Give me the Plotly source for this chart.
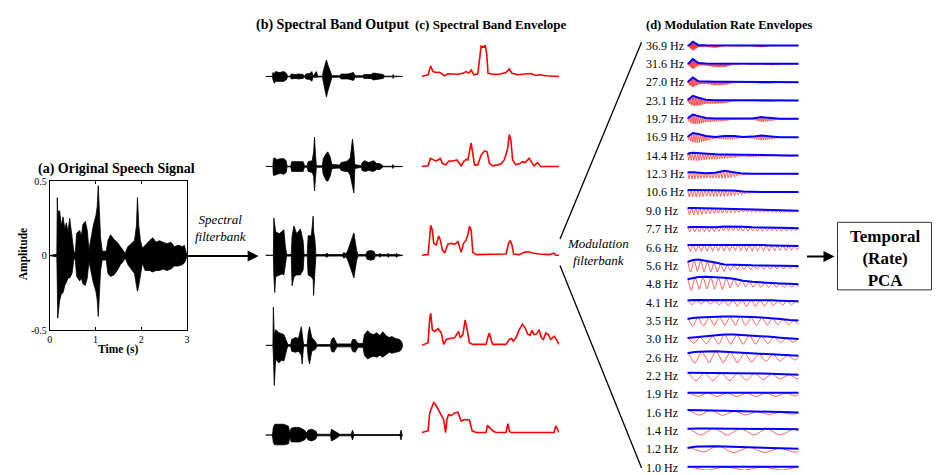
import numpy as np
import plotly.graph_objects as go

W, H = 936, 475
FONT = "Liberation Serif"

# ---------------- data ----------------
# (a) original speech signal: (time s, upper envelope, lower envelope)
speech = [
    (0.000, 0.000, 0.000), (0.145, 0.005, -0.005), (0.155, 0.010, -0.010),
    (0.165, 0.390, -0.200), (0.174, 0.300, -0.420), (0.218, 0.300, -0.300),
    (0.250, 0.200, -0.260), (0.290, 0.260, -0.250), (0.330, 0.180, -0.200),
    (0.363, 0.220, -0.180), (0.400, 0.160, -0.150), (0.436, 0.250, -0.150),
    (0.487, 0.120, -0.120), (0.530, 0.020, -0.020), (0.560, 0.030, -0.030),
    (0.588, 0.150, -0.140), (0.654, 0.170, -0.170), (0.690, 0.130, -0.150),
    (0.726, 0.210, -0.190), (0.777, 0.230, -0.200), (0.820, 0.170, -0.150),
    (0.857, 0.040, -0.040), (0.893, 0.100, -0.100), (0.951, 0.200, -0.180),
    (1.009, 0.270, -0.240), (1.038, 0.330, -0.300), (1.060, 0.470, -0.410),
    (1.082, 0.300, -0.250), (1.111, 0.120, -0.100), (1.147, 0.030, -0.030),
    (1.235, 0.030, -0.030), (1.271, 0.100, -0.120), (1.329, 0.140, -0.140),
    (1.402, 0.110, -0.130), (1.474, 0.090, -0.100), (1.547, 0.060, -0.060),
    (1.605, 0.030, -0.040), (1.649, 0.015, -0.015), (1.707, 0.060, -0.060),
    (1.779, 0.080, -0.090), (1.852, 0.100, -0.120), (1.895, 0.200, -0.200),
    (1.917, 0.390, -0.240), (1.946, 0.200, -0.200), (1.983, 0.100, -0.130),
    (2.026, 0.050, -0.050), (2.084, 0.070, -0.100), (2.179, 0.100, -0.100),
    (2.251, 0.120, -0.110), (2.324, 0.090, -0.100), (2.397, 0.100, -0.100),
    (2.484, 0.090, -0.090), (2.556, 0.080, -0.100), (2.651, 0.090, -0.090),
    (2.723, 0.060, -0.070), (2.810, 0.070, -0.070), (2.905, 0.060, -0.060),
    (2.941, 0.070, -0.050), (2.985, 0.020, -0.020), (3.000, 0.000, 0.000),
]
speech_xticks = [0, 1, 2, 3]
speech_yticks = [-0.5, 0, 0.5]

# (b) spectral band outputs: (time s, upper, lower) in relative amplitude units
band1_out = [
    (0.00, 0, 0), (0.15, 0, 0), (0.16, 4, -3), (0.19, 3, -7), (0.22, 5, -5),
    (0.30, 4, -5), (0.40, 5, -5), (0.46, 3, -3), (0.48, 0.3, -0.3), (0.54, 0.3, -0.3),
    (0.56, 2.5, -2.5), (0.65, 2, -2), (0.72, 2.5, -2.5), (0.82, 2, -2), (0.85, 0.3, -0.3),
    (0.88, 2.5, -2.5), (0.97, 3, -3), (1.01, 5, -5), (1.04, 0.3, -0.3), (1.07, 3, -1),
    (1.11, 5, -1), (1.14, 0.3, -0.3), (1.24, 0.3, -0.3), (1.26, 5, -5), (1.30, 12, -14),
    (1.33, 17, -21), (1.36, 12, -15), (1.41, 5, -6), (1.45, 0.8, -0.8), (1.62, 0.8, -0.8),
    (1.65, 2.5, -2.5), (1.80, 2.5, -2.5), (1.88, 3, -3), (1.92, 4, -4), (1.96, 0.8, -0.8),
    (2.12, 0.8, -0.8), (2.15, 2, -2), (2.30, 2, -2), (2.36, 3.5, -3.5), (2.43, 3, -3),
    (2.47, 2.5, -2.5), (2.57, 2, -2), (2.60, 0.3, -0.3), (2.77, 0.3, -0.3), (2.79, 2, -2),
    (2.81, 0.3, -0.3), (3.00, 0, 0),
]
band2_out = [
    (0.00, 0, 0), (0.16, 0, 0), (0.17, 8, -9), (0.20, 9, -9), (0.25, 7, -8),
    (0.32, 8, -7), (0.40, 8, -8), (0.45, 6, -6), (0.47, 0.3, -0.3), (0.55, 0.3, -0.3),
    (0.57, 5, -5), (0.70, 5, -5), (0.82, 5, -5), (0.85, 0.8, -0.8), (0.91, 0.8, -0.8),
    (0.93, 5, -5), (1.02, 6, -6), (1.05, 15, -10), (1.07, 30, -25), (1.09, 12, -12),
    (1.11, 0.8, -0.8), (1.24, 0.8, -0.8), (1.26, 8, -8), (1.32, 13, -14), (1.36, 15, -15),
    (1.41, 10, -10), (1.45, 2, -2), (1.62, 1.5, -1.5), (1.65, 4, -4), (1.75, 5, -5),
    (1.80, 6, -5), (1.85, 9, -9), (1.90, 28, -22), (1.93, 15, -27), (1.95, 2, -2),
    (2.09, 0.8, -0.8), (2.11, 4, -4), (2.17, 6, -5), (2.25, 4, -4), (2.36, 6, -5),
    (2.43, 3, -3), (2.50, 3, -3), (2.57, 0.3, -0.3), (2.77, 0.3, -0.3), (2.78, 2, -2),
    (2.80, 0.3, -0.3), (3.00, 0, 0),
]
band3_out = [
    (0.00, 0, 0), (0.17, 0, 0), (0.18, 38, -20), (0.20, 30, -38), (0.22, 24, -22),
    (0.30, 22, -20), (0.36, 24, -19), (0.40, 26, -20), (0.43, 10, -10), (0.46, 0.8, -0.8),
    (0.56, 0.8, -0.8), (0.58, 20, -31), (0.62, 30, -22), (0.68, 22, -20), (0.76, 27, -20),
    (0.82, 15, -15), (0.84, 0.8, -0.8), (0.91, 0.8, -0.8), (0.93, 20, -20), (1.00, 20, -22),
    (1.04, 40, -25), (1.05, 25, -41), (1.08, 15, -15), (1.10, 0.8, -0.8), (1.30, 0.8, -0.8),
    (1.34, 2, -2), (1.38, 0.8, -0.8), (1.68, 0.8, -0.8), (1.71, 3, -3), (1.75, 1.5, -1.5),
    (1.79, 4, -4), (1.82, 8, -8), (1.88, 15, -15), (1.93, 23, -23), (1.99, 5, -5),
    (2.02, 0.8, -0.8), (2.19, 0.8, -0.8), (2.22, 4, -4), (2.30, 5, -5), (2.37, 4, -4),
    (2.40, 0.8, -0.8), (2.48, 0.8, -0.8), (2.50, 2, -2), (2.53, 0.8, -0.8), (2.66, 0.8, -0.8),
    (2.68, 2, -2), (2.71, 0.8, -0.8), (2.84, 0.8, -0.8), (2.86, 2, -2), (2.89, 0.8, -0.8),
    (3.00, 0, 0),
]
band4_out = [
    (0.00, 0, 0), (0.16, 0, 0), (0.17, 39, -10), (0.19, 10, -41), (0.22, 16, -14),
    (0.29, 13, -18), (0.35, 12, -15), (0.40, 11, -16), (0.47, 3, -3), (0.49, 0.8, -0.8),
    (0.55, 0.8, -0.8), (0.57, 6, -6), (0.65, 8, -7), (0.72, 7, -6), (0.78, 19, -10),
    (0.80, 10, -19), (0.83, 0.8, -0.8), (0.91, 0.8, -0.8), (0.93, 12, -12), (0.96, 19, -19),
    (1.01, 8, -6), (1.09, 4, -4), (1.12, 0.8, -0.8), (1.42, 0.8, -0.8), (1.44, 6, -6),
    (1.49, 8, -7), (1.56, 1.5, -1.5), (1.87, 1.5, -1.5), (1.90, 6, -6), (1.96, 6, -7),
    (2.02, 2, -2), (2.13, 2, -2), (2.16, 11, -10), (2.23, 15, -14), (2.30, 12, -12),
    (2.36, 11, -11), (2.43, 13, -12), (2.50, 10, -10), (2.56, 14, -12), (2.63, 10, -9),
    (2.70, 8, -7), (2.76, 9, -8), (2.84, 7, -7), (2.93, 6, -6), (2.97, 4, -4),
    (3.00, 0, 0),
]
band5_out = [
    (0.00, 0, 0), (0.15, 0, 0), (0.17, 8, -8), (0.20, 11, -10), (0.30, 11, -10),
    (0.40, 11, -10), (0.50, 9, -9), (0.53, 2, -2), (0.56, 7, -7), (0.65, 8, -7),
    (0.75, 7.5, -7), (0.85, 5, -5), (0.90, 2, -2), (0.93, 5, -5), (1.01, 6, -6),
    (1.10, 4, -4), (1.13, 0.8, -0.8), (1.42, 0.8, -0.8), (1.44, 6, -6), (1.52, 4, -4),
    (1.62, 0.8, -0.8), (1.87, 0.8, -0.8), (1.90, 5, -5), (1.93, 0.5, -0.5), (2.94, 0.5, -0.5),
    (2.96, 5, -5), (2.98, 0.5, -0.5), (3.00, 0, 0),
]

# (c) spectral band envelopes: (time s, envelope)
band1_env = [
    (0.000, 0), (0.138, 1.7), (0.196, 10.7), (0.246, 5), (0.319, 4), (0.391, 4.3),
    (0.442, 2.7), (0.500, 0.7), (0.572, 2.7), (0.681, 2.7), (0.790, 2.3), (0.899, 3.3),
    (0.971, 5), (1.029, 3.3), (1.080, 6.7), (1.138, 1.7), (1.225, 2.7), (1.297, 31),
    (1.355, 30), (1.384, 32), (1.420, 23), (1.449, 3.3), (1.551, 2.3), (1.696, 2.3),
    (1.841, 4), (1.913, 7.7), (1.971, 3.3), (2.094, 1.7), (2.275, 2.3), (2.384, 3),
    (2.493, 1), (2.565, 1.7), (2.710, 0.7), (2.891, 0.7), (3.000, 0),
]
band2_env = [
    (0.000, 0), (0.138, 0.7), (0.188, 8.3), (0.246, 6.7), (0.304, 5.7), (0.355, 6.7),
    (0.406, 8.3), (0.449, 3.3), (0.522, 1.7), (0.594, 5.7), (0.681, 5.7), (0.768, 6.7),
    (0.826, 3.3), (0.862, 0.7), (0.913, 5), (0.971, 7.3), (1.007, 6.7), (1.043, 16.7),
    (1.080, 24), (1.116, 13.3), (1.152, 1.7), (1.225, 1.7), (1.297, 11.7), (1.370, 16),
    (1.428, 15), (1.478, 3.3), (1.551, 0.7), (1.659, 1.7), (1.732, 2.7), (1.804, 6.7),
    (1.877, 18.3), (1.913, 32.7), (1.949, 26.7), (1.986, 6.7), (2.058, 1.7), (2.130, 2.7),
    (2.203, 5), (2.261, 4), (2.348, 8.3), (2.406, 4), (2.457, 0.7), (2.529, 4),
    (2.601, 0), (3.000, 0),
]
band3_env = [
    (0.000, 0), (0.138, 0.7), (0.174, 19), (0.196, 30.7), (0.232, 25.7), (0.261, 12.3),
    (0.319, 10.7), (0.370, 19.7), (0.406, 15.7), (0.449, 5.7), (0.500, 2.3), (0.572, 11.3),
    (0.645, 12.3), (0.717, 11.3), (0.790, 14), (0.826, 7.3), (0.862, 3), (0.913, 12.3),
    (0.971, 15.7), (1.007, 20.7), (1.043, 29.7), (1.080, 25.7), (1.116, 3), (1.188, 0.7),
    (1.551, 0.7), (1.841, 1.3), (1.899, 12.3), (1.935, 15), (1.971, 10.7), (2.007, 1.3),
    (2.130, 0.7), (2.239, 3), (2.333, 3.7), (2.420, 2.3), (2.565, 1.3), (2.783, 0.7),
    (2.891, 2.3), (2.928, 0), (3.000, 0),
]
band4_env = [
    (0.000, 0), (0.138, 2.7), (0.174, 27.7), (0.196, 32.7), (0.232, 16), (0.283, 14.3),
    (0.355, 17), (0.428, 12.7), (0.478, 1), (0.536, 6), (0.609, 7), (0.717, 7.7),
    (0.804, 14.3), (0.841, 7.7), (0.899, 11), (0.949, 26), (0.986, 17.7), (1.043, 2.7),
    (1.116, 1), (1.406, 1), (1.442, 7.7), (1.478, 12.7), (1.514, 6), (1.551, 1),
    (1.841, 1), (1.913, 6), (1.964, 7), (2.000, 4.3), (2.058, 7.7), (2.130, 16),
    (2.203, 21.7), (2.261, 17.7), (2.312, 11.7), (2.370, 10.3), (2.406, 15.3), (2.457, 11),
    (2.514, 11.7), (2.565, 16), (2.616, 7.7), (2.659, 6), (2.710, 12.7), (2.768, 11),
    (2.819, 6), (2.891, 9.3), (2.942, 6), (3.000, 1),
]
band5_env = [
    (0.000, 0), (0.138, 1.7), (0.174, 20), (0.232, 26.7), (0.261, 30.7), (0.304, 28.3),
    (0.355, 24), (0.428, 16.7), (0.478, 13.3), (0.522, 0), (0.551, 13.3), (0.587, 18.3),
    (0.645, 17.3), (0.717, 20), (0.790, 20.7), (0.862, 11.7), (0.935, 13.3), (1.043, 12.7),
    (1.101, 1.7), (1.188, 0), (1.406, 0), (1.435, 7.3), (1.478, 5), (1.551, 1.7),
    (1.623, 0), (1.841, 0), (1.884, 9), (1.913, 1.7), (1.949, 0), (2.891, 0),
    (2.928, 6.7), (2.964, 3.3), (3.000, 0),
]

# (d) modulation rate envelopes
mod_rates = [36.9, 31.6, 27.0, 23.1, 19.7, 16.9, 14.4, 12.3, 10.6, 9.0, 7.7, 6.6,
             5.6, 4.8, 4.1, 3.5, 3.0, 2.6, 2.2, 1.9, 1.6, 1.4, 1.2, 1.0]
mod_grid = [0, 0.05, 0.15, 0.3, 0.5, 0.75, 1.0, 1.25, 1.5, 1.75, 2.0, 2.25, 2.5, 2.75, 3.0]
# blue envelope level per row at mod_grid times
mod_blue = [
    [0, 0.5, 4, 0.5, 0.3, 0.3, 0.3, 0.2, 0.2, 0.2, 0.3, 0.2, 0.2, 0.2, 0.2],
    [0, 1, 5, 1, 0.5, 0.5, 0.5, 0.3, 0.2, 0.2, 0.2, 0.3, 0.2, 0.2, 0.2],
    [0, 1.5, 5, 1, 0.5, 0.5, 0.5, 0.3, 0.2, 0.2, 0.3, 0.3, 0.2, 0.2, 0.2],
    [0.5, 2, 5, 3, 1, 0.5, 0.5, 0.3, 0.2, 0.2, 0.3, 0.3, 0.2, 0.2, 0.2],
    [0.5, 2, 4.5, 3, 1, 0.5, 0.5, 0.3, 0.2, 0.5, 2, 1, 0.2, 0.2, 0.2],
    [0.5, 2, 4.5, 3.5, 1.5, 0.5, 1.5, 1.5, 0.3, 0.8, 2, 1, 0.2, 0.2, 0.2],
    [1.5, 2.5, 3, 2.5, 2, 1.5, 1.2, 1, 0.5, 0.5, 0.3, 0.3, 0.3, 0.3, 0.3],
    [1.5, 2, 2, 1.5, 1, 1.5, 3.5, 2, 0.5, 0.3, 0.3, 0.3, 0.3, 0.3, 0.3],
    [2, 2.5, 2.5, 2.5, 2.5, 2.5, 2.5, 2, 1, 0.5, 0.5, 0.5, 0.5, 0.5, 0.5],
    [2.5, 3, 3, 3, 2.8, 2.5, 2.2, 2, 1.7, 1.3, 1, 0.8, 0.5, 0.3, 0.2],
    [2, 2.3, 2.3, 2.3, 2, 2, 2.8, 3, 2.5, 2, 2, 1.8, 1.5, 1.2, 1],
    [2.5, 2.7, 2.7, 2.7, 2.7, 3, 3, 3, 2.8, 2.5, 2.5, 2.2, 2, 1.8, 1.5],
    [4, 4.5, 6, 6.5, 5.5, 3.5, 1.5, 1, 0.8, 0.6, 0.5, 0.4, 0.3, 0.2, 0],
    [5, 5.5, 6.5, 7.5, 7.7, 7.5, 6.7, 5.5, 3.5, 2.5, 1.7, 1.2, 0.8, 0.4, 0],
    [2, 2.5, 2.7, 2.7, 2.5, 2.3, 2.5, 3, 3, 3, 2.7, 2.3, 2, 1.7, 1.5],
    [2, 2.5, 3, 3.5, 4, 4.5, 4.5, 4.5, 4.5, 4, 3.5, 3, 2, 1, 0.5],
    [1.3, 1.5, 2, 2.5, 3, 4, 4.8, 5, 4.5, 4, 3.3, 2.5, 1.7, 1, 0.3],
    [4.5, 5, 5.5, 6, 6.5, 6.5, 6, 5.5, 5, 4.5, 4, 3.5, 3, 2.5, 2],
    [3.3, 3.3, 3.3, 3.3, 3.3, 3.3, 3.3, 3.3, 3, 3, 2.7, 2.3, 2, 1.5, 1.2],
    [1.7, 1.7, 1.7, 1.7, 1.7, 1.7, 1.7, 1.7, 1.7, 1.7, 1.7, 1.7, 1.7, 1.7, 1.7],
    [2.7, 2.7, 2.7, 2.6, 2.5, 2.3, 2, 1.8, 1.5, 1.3, 1, 0.8, 0.6, 0.4, 0.3],
    [2.3, 2.5, 2.7, 2.7, 2.7, 2.7, 2.7, 2.5, 2.5, 2.3, 2.3, 2, 2, 2, 2],
    [1.5, 2, 2.5, 3, 3.3, 3.3, 3, 2.8, 2.5, 2.3, 2, 1.7, 1.4, 1, 0.7],
    [1, 1, 1, 1, 1, 1, 1, 1, 1, 1, 1, 1, 1, 1, 1],
]
# red oscillation depth (peak-to-trough) per row at mod_grid times
mod_depth = [
    [0, 2, 9, 2, 1.5, 2.5, 1, 0.5, 0.5, 1, 2, 0.5, 0.5, 0.5, 0.5],
    [0, 3, 10, 2.5, 2, 3.5, 3.5, 1, 0.5, 0.5, 0.5, 1.5, 0.5, 0.5, 0.5],
    [0, 4, 10, 3, 2, 3.5, 3, 1, 0.5, 0.5, 1.5, 1.5, 0.5, 0.5, 0.5],
    [1, 5, 10, 8, 4, 3.5, 3, 1, 0.5, 0.5, 1.5, 1.5, 0.5, 0.5, 0.5],
    [1, 5, 9.5, 8, 4, 3, 2.5, 1, 0.5, 1, 5, 3, 0.5, 0.5, 0.5],
    [1, 5, 9.5, 9, 5, 1.5, 3.5, 3.5, 0.5, 2, 5, 3, 0.5, 0.5, 0.5],
    [5, 7, 8, 7.5, 6, 5, 4, 3, 1.5, 2, 1, 0.5, 0.5, 1.5, 0.5],
    [5, 7, 7, 6, 5, 5.5, 8, 5, 1, 0.5, 0.5, 0.5, 0.5, 0.5, 0.5],
    [6, 7, 7, 7, 6.5, 6.5, 6.5, 5, 3, 1, 0.5, 0.5, 0.5, 0.5, 0.5],
    [6, 7, 7, 7, 6, 5, 4.5, 4, 3, 3, 2.5, 2.5, 2, 2, 1.5],
    [4.5, 5, 5, 5, 4.5, 4.5, 4.5, 4.5, 4.5, 4, 4, 3.5, 3.5, 3, 2.5],
    [6, 6.5, 6.5, 6.5, 6.5, 6.5, 6.5, 6, 6, 6, 5.5, 5.5, 5, 4.5, 4],
    [10, 11, 12, 12, 11.5, 10, 7, 5, 4.5, 4.5, 4, 4, 3.5, 3, 2.5],
    [11, 12, 12.5, 12.5, 12.5, 12.5, 12, 8, 6, 5.5, 5, 4.5, 4, 3.5, 3],
    [4.5, 5, 5, 4.5, 4, 4.5, 5.5, 6.5, 7, 7, 6.5, 5.5, 5, 4, 3.5],
    [7, 7.5, 8, 8.5, 9, 9, 9, 9, 9, 8.5, 8, 7, 6, 5, 4],
    [4.5, 5, 6, 7, 8, 9, 10, 10, 9.5, 9, 8, 6.5, 5, 4, 3.5],
    [10, 10.5, 11, 11.5, 11.5, 11.5, 11, 10.5, 10, 9, 8, 7, 6, 5, 4.5],
    [8, 8, 8, 8, 8, 8, 8, 8, 7.5, 7, 6.5, 6, 5, 4.5, 4],
    [3, 3.5, 3.5, 4, 4, 4, 4, 4, 4, 4, 4, 4, 4, 3.5, 3.5],
    [4, 4.5, 4.5, 5, 5, 5, 5, 4.5, 4, 3.5, 3, 2.5, 2.5, 2, 2],
    [6, 6.5, 6.5, 6.7, 6.7, 6.7, 6.7, 6.5, 6.5, 6.3, 6.3, 6, 6, 6, 6],
    [4, 4.5, 5, 5.5, 6, 6, 6, 6, 5.5, 5.5, 5, 5, 4.5, 4, 3.5],
    [3.5, 3.5, 3.5, 3.5, 3.5, 3.5, 3.5, 3.5, 3.5, 3.5, 3.5, 3.5, 3.5, 3.5, 3.5],
]

# ---------------- layout constants (pixels) ----------------
SPEECH_BOX = (48, 186, 180, 332)          # x0, x1, ytop, ybottom
OUT_X = (265, 403)
ENV_X = (422, 560)
OUT_BASE = [73, 165, 255.7, 347.7, 439.3]
ENV_BASE = [73, 165, 255.7, 347.7, 436.7]
MOD_X = (689, 801)
MOD_TOP, MOD_STEP = 41.5, 18.75

fig = go.Figure()
axes = {}
count = [0]


def new_axes(x0, x1, yc, half, xr):
    """Hidden axes whose y unit is one pixel, centred on pixel row yc."""
    count[0] += 1
    n = count[0]
    sfx = "" if n == 1 else str(n)
    y0, y1 = max(0.0, yc - half), min(H, yc + half)
    axes["xaxis" + sfx] = dict(domain=[x0 / W, x1 / W], range=xr, anchor="y" + sfx,
                               visible=False, fixedrange=True)
    axes["yaxis" + sfx] = dict(domain=[1 - y1 / H, 1 - y0 / H], range=[yc - y1, yc - y0],
                               anchor="x" + sfx, visible=False, fixedrange=True)
    return "x" + sfx, "y" + sfx


def add_wave(xa, ya, rows, color):
    t = [r[0] for r in rows]
    up = [r[1] for r in rows]
    lo = [r[2] for r in rows]
    fig.add_trace(go.Scatter(x=t, y=up, xaxis=xa, yaxis=ya, mode="lines",
                             line=dict(color=color, width=0.8), hoverinfo="skip", showlegend=False))
    fig.add_trace(go.Scatter(x=t, y=lo, xaxis=xa, yaxis=ya, mode="lines",
                             line=dict(color=color, width=0.8), fill="tonexty", fillcolor=color,
                             hoverinfo="skip", showlegend=False))


# (a) speech axes
xa, ya = new_axes(SPEECH_BOX[0], SPEECH_BOX[1], 0, 1, [0, 3])
axstyle = dict(visible=True, showline=True, linecolor="black", linewidth=1, mirror="ticks",
               ticks="inside", ticklen=3, tickcolor="black", showgrid=False, zeroline=False,
               tickfont=dict(family=FONT, size=10, color="black"), fixedrange=True)
axes["xaxis"] = dict(axes["xaxis"], **axstyle, tickvals=speech_xticks,
                     ticktext=[str(v) for v in speech_xticks])
axes["yaxis"] = dict(axstyle, domain=[1 - SPEECH_BOX[3] / H, 1 - SPEECH_BOX[2] / H],
                     range=[-0.5, 0.5], anchor="x", tickvals=speech_yticks,
                     ticktext=["-0.5", "0", "0.5"])
add_wave(xa, ya, speech, "black")

# (b) and (c)
for rows, base in zip([band1_out, band2_out, band3_out, band4_out, band5_out], OUT_BASE):
    xa, ya = new_axes(OUT_X[0], OUT_X[1], base, 46, [0, 3])
    add_wave(xa, ya, rows, "black")

for rows, base in zip([band1_env, band2_env, band3_env, band4_env, band5_env], ENV_BASE):
    xa, ya = new_axes(ENV_X[0], ENV_X[1], base, 40, [0, 3])
    fig.add_trace(go.Scatter(x=[r[0] for r in rows], y=[r[1] for r in rows], xaxis=xa, yaxis=ya,
                             mode="lines", line=dict(color="#ff0000", width=1.6),
                             hoverinfo="skip", showlegend=False))

# (d) modulation rows
annotations = []
mt = np.linspace(0, 3, 2401)
for i, rate in enumerate(mod_rates):
    yc = MOD_TOP + i * MOD_STEP
    xa, ya = new_axes(MOD_X[0], MOD_X[1], yc, 16, [0, 3])
    blue = np.interp(mt, mod_grid, mod_blue[i])
    depth = np.interp(mt, mod_grid, mod_depth[i])
    red = blue - depth * (1 - np.cos(2 * np.pi * rate * mt)) / 2
    fig.add_trace(go.Scatter(x=mt, y=red, xaxis=xa, yaxis=ya, mode="lines",
                             line=dict(color="rgba(255,0,0,0.85)", width=0.7),
                             hoverinfo="skip", showlegend=False))
    fig.add_trace(go.Scatter(x=mod_grid, y=mod_blue[i], xaxis=xa, yaxis=ya, mode="lines",
                             line=dict(color="#0000ff", width=2),
                             hoverinfo="skip", showlegend=False))
    annotations.append(dict(x=645 / W, y=1 - yc / H, xref="paper", yref="paper",
                            text=f"{rate:.1f} Hz", showarrow=False, xanchor="left",
                            yanchor="middle", font=dict(family=FONT, size=12, color="black")))


def text(x, y, s, size, xanchor="center", angle=0):
    annotations.append(dict(x=x / W, y=1 - y / H, xref="paper", yref="paper", text=s,
                            showarrow=False, xanchor=xanchor, yanchor="middle", textangle=angle,
                            font=dict(family=FONT, size=size, color="black")))


text(115.5, 168, "<b>(a) Original Speech Signal</b>", 14)
text(332.5, 20, "<b>(b) Spectral Band Output</b>", 14)
text(492, 20, "<b>(c) Spectral Band Envelope</b>", 13)
text(731, 20, "<b>(d) Modulation Rate Envelopes</b>", 12.5)
text(21.7, 255, "<b>Amplitude</b>", 11.5, angle=-90)
text(117, 352, "<b>Time (s)</b>", 11.5)
text(220, 228, "<i>Spectral</i><br><i>filterbank</i>", 13)
text(599, 252, "<i>Modulation</i><br><i>filterbank</i>", 13)
text(887.5, 259, "<b>Temporal</b><br><b>(Rate)</b><br><b>PCA</b>", 17)

# arrows
for hx, hy, length in [(258, 256.5, 72), (837, 257, 29)]:
    annotations.append(dict(x=hx / W, y=1 - hy / H, xref="paper", yref="paper", ax=-length, ay=0,
                            axref="pixel", ayref="pixel", text="", showarrow=True, arrowhead=2,
                            arrowsize=1.1, arrowwidth=2, arrowcolor="black", standoff=0))

shapes = [
    dict(type="line", xref="paper", yref="paper", x0=561 / W, y0=1 - 239 / H, x1=643 / W,
         y1=1 - 38 / H, line=dict(color="black", width=1.3)),
    dict(type="line", xref="paper", yref="paper", x0=561 / W, y0=1 - 266 / H, x1=643 / W,
         y1=1 - 473 / H, line=dict(color="black", width=1.3)),
    dict(type="rect", xref="paper", yref="paper", x0=840 / W, y0=1 - 291 / H, x1=934.5 / W,
         y1=1 - 222 / H, line=dict(color="#333333", width=1)),
]

fig.update_layout(width=W, height=H, margin=dict(l=0, r=0, t=0, b=0, pad=0),
                  paper_bgcolor="white", plot_bgcolor="rgba(0,0,0,0)", showlegend=False,
                  annotations=annotations, shapes=shapes, **axes)
fig.write_html("out.html", config={"displayModeBar": False})
